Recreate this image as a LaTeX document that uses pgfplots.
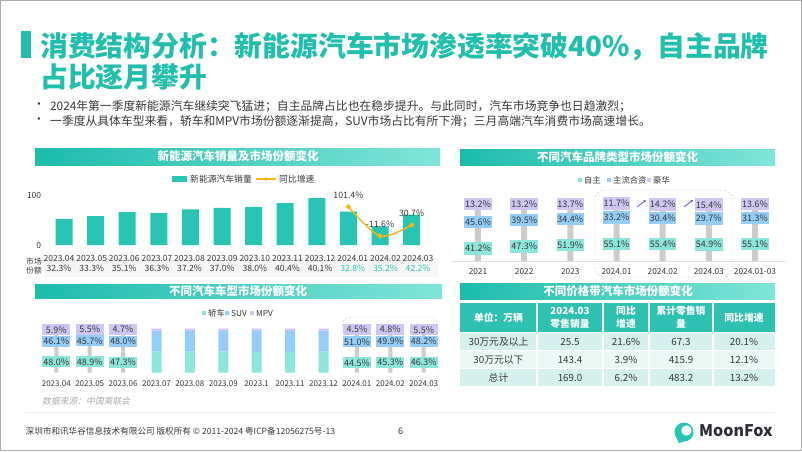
\documentclass[border=0pt]{standalone}
\usepackage{pgfplots}
\usepackage{pgfplotstable}
\pgfplotsset{compat=1.18}
\usepackage{fontspec}
\setmainfont{Noto Sans CJK SC}
\newfontfamily\slfont{Noto Sans CJK SC}[FakeSlant=0.2]
\usetikzlibrary{arrows.meta}
\definecolor{teal1}{RGB}{40,196,180}
\definecolor{ttl}{RGB}{32,190,172}
\definecolor{hdrL}{RGB}{28,188,171}
\definecolor{hdrR}{RGB}{128,228,218}
\definecolor{cA}{RGB}{140,230,219}
\definecolor{cB}{RGB}{148,206,248}
\definecolor{cC}{RGB}{205,199,244}
\definecolor{gold}{RGB}{246,184,18}
\definecolor{txt}{RGB}{55,55,55}
\definecolor{rowA}{RGB}{212,241,237}
\definecolor{rowB}{RGB}{234,248,246}
\definecolor{thdr}{RGB}{46,192,177}
\definecolor{arrowc}{RGB}{105,95,215}
\newcommand{\fs}[1]{\fontsize{#1}{#1}\selectfont}

\pgfplotstableread{
x sales
0 52.5
1 58.0
2 66.0
3 64.0
4 71.5
5 74.5
6 76.5
7 84.0
8 94.0
9 67.0
10 37.5
11 61.0
}\salesdata

\pgfplotstableread{
x a b c
0 41.2 45.6 13.2
1 47.3 39.5 13.2
2 51.9 34.4 13.7
3 55.1 33.2 11.7
4 55.4 30.4 14.2
5 54.9 29.7 15.4
6 55.1 31.3 13.6
}\branddata

\pgfplotstableread{
x a b c
0 48.0 46.1 5.9
1 48.9 45.7 5.5
2 47.3 48.0 4.7
9 44.5 51.0 4.5
10 45.3 49.9 4.8
11 46.3 48.2 5.5
}\typelab

\pgfplotstableread{
x a b c
3 47.5 46.8 5.7
4 47.6 46.7 5.7
5 47.9 46.4 5.7
6 47.0 47.2 5.8
7 46.9 47.2 5.9
8 47.3 46.9 5.8
}\typeun

\begin{document}
\begin{tikzpicture}
\path[use as bounding box] (0pt,0pt) rectangle (802pt,-451pt);
\fill[white] (0pt,0pt) rectangle (802pt,-451pt);

\begin{scope}[x=1pt,y=-1pt]
% frame
\draw[gray!65, line width=1pt] (0.5,0.5) rectangle (801.5,450.5);
% title
\fill[ttl] (21,31) rectangle (31,58);
\node[anchor=west, inner sep=0pt, font=\fs{27.8}\bfseries, text=ttl] at (40,47) {消费结构分析：新能源汽车市场渗透率突破40\%，自主品牌};
\node[anchor=west, inner sep=0pt, font=\fs{27.8}\bfseries, text=ttl] at (40,77) {占比逐月攀升};
% bullets
\node[anchor=west, inner sep=0pt, font=\fs{11.8}, text=txt] at (33,106) {•};
\node[anchor=west, inner sep=0pt, font=\fs{11.8}, text=txt] at (50,106) {2024年第一季度新能源汽车继续突飞猛进；自主品牌占比也在稳步提升。与此同时，汽车市场竞争也日趋激烈；};
\node[anchor=west, inner sep=0pt, font=\fs{11.8}, text=txt] at (33,121) {•};
\node[anchor=west, inner sep=0pt, font=\fs{11.8}, text=txt] at (50,121) {一季度从具体车型来看，轿车和MPV市场份额逐渐提高，SUV市场占比有所下滑；三月高端汽车消费市场高速增长。};

% section headers
\shade[left color=hdrL, right color=hdrR] (35,148) rectangle (440,165);
\node[font=\fs{11.5}\bfseries, text=white] at (238,156.5) {新能源汽车销量及市场份额变化};
\shade[left color=hdrL, right color=hdrR] (460,149) rectangle (775,165);
\node[font=\fs{11.5}\bfseries, text=white] at (617.5,157) {不同汽车品牌类型市场份额变化};
\shade[left color=hdrL, right color=hdrR] (35,284) rectangle (442,298);
\node[font=\fs{11.5}\bfseries, text=white] at (238,291) {不同汽车车型市场份额变化};
\shade[left color=hdrL, right color=hdrR] (460,283) rectangle (775,299);
\node[font=\fs{11.5}\bfseries, text=white] at (618,291) {不同价格带汽车市场份额变化};

% legend chart 1
\fill[teal1] (172,176) rectangle (187,182);
\node[anchor=west, inner sep=0pt, font=\fs{8.8}, text=txt] at (190,179) {新能源汽车销量};
\draw[gold, line width=1.3pt] (256,179) -- (276,179);
\fill[gold] (266,179) circle (1.8);
\node[anchor=west, inner sep=0pt, font=\fs{8.8}, text=txt] at (279,179) {同比增速};

% market share row chart 1
\fill[gray!7] (44,258) rectangle (438,277);
\node[font=\fs{7.8}, text=txt] at (34,261) {市场};
\node[font=\fs{7.8}, text=txt] at (34,271) {份额};
\foreach \v [count=\i from 0] in {32.3,33.3,35.1,36.3,37.2,37.0,38.0,40.4,40.1}
  \node[font=\fs{8.6}, text=txt] at (59+32.64*\i,268.5) {\v\%};
\foreach \v [count=\i from 9] in {32.8,35.2,42.2}
  \node[font=\fs{8.6}, text=teal1] at (59+32.64*\i,268.5) {\v\%};

% legend chart 2
\fill[cA] (578,178) rectangle (582,182);
\node[anchor=west, inner sep=0pt, font=\fs{8.3}, text=txt] at (584,180) {自主};
\fill[cB] (607,178) rectangle (611,182);
\node[anchor=west, inner sep=0pt, font=\fs{8.3}, text=txt] at (613,180) {主流合资};
\fill[cC] (647,178) rectangle (651,182);
\node[anchor=west, inner sep=0pt, font=\fs{8.3}, text=txt] at (653,180) {豪华};
\draw[gray!25, line width=0.8pt] (452,261) -- (786,261);
\draw[gray!45, dash pattern=on 2pt off 2pt, rounded corners=9pt] (595,190) rectangle (732,277);
\draw[arrowc, line width=0.8pt, -{Stealth[length=3pt,width=3pt]}] (637,207) -- (646,200);
\draw[arrowc, line width=0.8pt, -{Stealth[length=3pt,width=3pt]}] (684,207) -- (693,200);

% legend chart 3
\fill[cA] (202,311) rectangle (206,315);
\node[anchor=west, inner sep=0pt, font=\fs{8.3}, text=txt] at (208,313) {轿车};
\fill[cB] (225,311) rectangle (229,315);
\node[anchor=west, inner sep=0pt, font=\fs{8.3}, text=txt] at (231,313) {SUV};
\fill[cC] (250,311) rectangle (254,315);
\node[anchor=west, inner sep=0pt, font=\fs{8.3}, text=txt] at (256,313) {MPV};
\draw[gray!45, dash pattern=on 2pt off 2pt, rounded corners=9pt] (342,317) rectangle (438,390);
\node[anchor=west, inner sep=0pt, font=\slfont\fs{8.8}, text=gray!65] at (42,401) {数据来源：中国乘联会};

% table
\fill[thdr] (460,303) rectangle (775,332);
\fill[rowA] (460,333) rectangle (775,350);
\fill[rowB] (460,351) rectangle (775,368);
\fill[rowA] (460,369) rectangle (775,386);
\foreach \x in {537,603,649,713} \draw[white, line width=1.2pt] (\x,303) -- (\x,386);
\draw[white, line width=1pt] (460,332.5) -- (775,332.5);
\begin{scope}[every node/.style={font=\fs{9.8}\bfseries, text=white, inner sep=0pt}]
\node at (498.5,317.5) {单位：万辆};
\node at (570,311) {2024.03};
\node at (570,324) {零售销量};
\node at (626,311) {同比};
\node at (626,324) {增速};
\node at (681,311) {累计零售销};
\node at (681,324) {量};
\node at (744,317.5) {同比增速};
\end{scope}
\begin{scope}[every node/.style={font=\fs{9.8}, text=txt, inner sep=0pt}]
\node at (498.5,341.5) {30万元及以上};
\node at (570,341.5) {25.5};
\node at (626,341.5) {21.6\%};
\node at (681,341.5) {67.3};
\node at (744,341.5) {20.1\%};
\node at (498.5,359.5) {30万元以下};
\node at (570,359.5) {143.4};
\node at (626,359.5) {3.9\%};
\node at (681,359.5) {415.9};
\node at (744,359.5) {12.1\%};
\node at (498.5,377.5) {总计};
\node at (570,377.5) {169.0};
\node at (626,377.5) {6.2\%};
\node at (681,377.5) {483.2};
\node at (744,377.5) {13.2\%};
\end{scope}

% footer
\draw[gray!12, line width=1pt] (25,412.7) -- (775,412.7);
\node[anchor=west, inner sep=0pt, font=\fs{8.6}, text=txt] at (25.5,431) {深圳市和讯华谷信息技术有限公司 版权所有 © 2011-2024 粤ICP备12056275号-13};
\node[inner sep=0pt, font=\fs{9}, text=txt] at (400.5,431) {6};
\fill[teal1] (684,432) circle (9.5);
\fill[white] (686.5,430.5) circle (5.2);
\fill[teal1] (676,437) -- (679,443) -- (684,441.5) -- cycle;
\node[anchor=west, inner sep=0pt, font=\fs{16}\bfseries, text={rgb,255:red,45;green,45;blue,55}] at (699,431) {MoonFox};
\end{scope}

% ---------- chart 1: NEV sales ----------
\begin{axis}[at={(48.2pt,-245pt)}, anchor=south west, scale only axis,
  width=379.2pt, height=50pt, xmin=-0.5, xmax=11.5, ymin=0, ymax=100,
  ybar, bar width=17pt, clip=false,
  axis line style={draw=none}, major tick style={draw=none},
  ytick={0,100}, yticklabel style={font=\fs{8.5}, text=txt, anchor=east, xshift=-3.5pt},
  xtick={-0.158,0.875,1.908,2.941,3.974,5.006,6.039,7.072,8.105,9.138,10.171,11.204},
  xticklabels={2023.04,2023.05,2023.06,2023.07,2023.08,2023.09,2023.10,2023.11,2023.12,2024.01,2024.02,2024.03},
  xticklabel style={font=\fs{8.5}, text=txt, anchor=center, yshift=-9pt},
  /pgf/number format/assume math mode=true]
\addplot[fill=teal1, draw=none] table[x=x, y=sales] {\salesdata};
\end{axis}
\begin{axis}[at={(48.2pt,-245pt)}, anchor=south west, scale only axis,
  width=379.2pt, height=50pt, xmin=-0.5, xmax=11.5, ymin=-46.3, ymax=146.5,
  hide axis, clip=false]
\addplot[gold, line width=1.4pt, smooth, mark=*, mark size=1.8pt,
  mark options={fill=gold, draw=gold},
  nodes near coords, point meta=explicit symbolic, nodes near coords align={south},
  every node near coord/.append style={font=\fs{8.8}, text=txt, anchor=south, yshift=4pt}]
  coordinates {(9,101.4) [101.4\%] (10,-11.6) [-11.6\%] (11,30.7) [30.7\%]};
\end{axis}

% ---------- chart 2: brand types ----------
\begin{axis}[at={(454.9pt,-261pt)}, anchor=south west, scale only axis,
  width=323.2pt, height=61pt, xmin=-0.5, xmax=6.5, ymin=0, ymax=100,
  ybar stacked, bar width=6pt, clip=false,
  axis line style={draw=none}, major tick style={draw=none}, ytick=\empty,
  xtick={0,...,6}, xticklabels={2021,2022,2023,2024.01,2024.02,2024.03,2024.01-03},
  xticklabel style={font=\fs{8.3}, text=txt, anchor=center, yshift=-11pt}]
\addplot[fill=gray!40, draw=none] table[x=x, y=a] {\branddata};
\addplot[fill=gray!40, draw=none] table[x=x, y=b] {\branddata};
\addplot[fill=gray!40, draw=none] table[x=x, y=c] {\branddata};
\end{axis}
\begin{axis}[at={(454.9pt,-261pt)}, anchor=south west, scale only axis,
  width=323.2pt, height=61pt, xmin=-0.5, xmax=6.5, ymin=0, ymax=100,
  hide axis, clip=false, point meta=explicit,
  nodes near coords={\pgfmathprintnumber[fixed,fixed zerofill,precision=1]{\pgfplotspointmeta}\%},
  nodes near coords align={center},
  every node near coord/.append style={anchor=center, inner sep=0pt, minimum width=27.5pt, minimum height=12.5pt, font=\fs{9}, text=txt},
  /pgf/number format/assume math mode=true]
\addplot[only marks, mark=*, mark size=0pt, mark options={draw=none, fill=none},
  every node near coord/.append style={fill=cA}]
  table[x=x, y expr=\thisrow{a}/2, meta=a] {\branddata};
\addplot[only marks, mark=*, mark size=0pt, mark options={draw=none, fill=none},
  every node near coord/.append style={fill=cB}]
  table[x=x, y expr=\thisrow{a}+\thisrow{b}/2, meta=b] {\branddata};
\addplot[only marks, mark=*, mark size=0pt, mark options={draw=none, fill=none},
  every node near coord/.append style={fill=cC}]
  table[x=x, y expr=\thisrow{a}+\thisrow{b}+\thisrow{c}/2, meta=c] {\branddata};
\end{axis}

% ---------- chart 3: vehicle types ----------
\begin{axis}[at={(39.6pt,-372.5pt)}, anchor=south west, scale only axis,
  width=400.8pt, height=44pt, xmin=-0.5, xmax=11.5, ymin=0, ymax=100,
  ybar stacked, bar width=10pt, clip=false,
  axis line style={draw=none}, major tick style={draw=none}, ytick=\empty,
  xtick={0,...,11},
  xticklabels={2023.04,2023.05,2023.06,2023.07,2023.08,2023.09,2023.1,2023.11,2023.12,2024.01,2024.02,2024.03},
  xticklabel style={font=\fs{8}, text=txt, anchor=center, yshift=-11.5pt}]
\addplot[fill=cA, draw=none] table[x=x, y=a] {\typeun};
\addplot[fill=cB, draw=none] table[x=x, y=b] {\typeun};
\addplot[fill=cC, draw=none] table[x=x, y=c] {\typeun};
\end{axis}
\begin{axis}[at={(39.6pt,-372.5pt)}, anchor=south west, scale only axis,
  width=400.8pt, height=44pt, xmin=-0.5, xmax=11.5, ymin=0, ymax=100,
  ybar stacked, bar width=4pt, clip=false, hide axis]
\addplot[fill=gray!40, draw=none] table[x=x, y=a] {\typelab};
\addplot[fill=gray!40, draw=none] table[x=x, y=b] {\typelab};
\addplot[fill=gray!40, draw=none] table[x=x, y=c] {\typelab};
\end{axis}
\begin{axis}[at={(39.6pt,-372.5pt)}, anchor=south west, scale only axis,
  width=400.8pt, height=44pt, xmin=-0.5, xmax=11.5, ymin=0, ymax=100,
  hide axis, clip=false, point meta=explicit,
  nodes near coords={\pgfmathprintnumber[fixed,fixed zerofill,precision=1]{\pgfplotspointmeta}\%},
  nodes near coords align={center},
  every node near coord/.append style={anchor=center, inner sep=0pt, minimum width=28pt, minimum height=11pt, font=\fs{9}, text=txt},
  /pgf/number format/assume math mode=true]
\addplot[only marks, mark=*, mark size=0pt, mark options={draw=none, fill=none},
  every node near coord/.append style={fill=cA}]
  table[x=x, y expr=\thisrow{a}/2, meta=a] {\typelab};
\addplot[only marks, mark=*, mark size=0pt, mark options={draw=none, fill=none},
  every node near coord/.append style={fill=cB}]
  table[x=x, y expr=\thisrow{a}+\thisrow{b}/2, meta=b] {\typelab};
\addplot[only marks, mark=*, mark size=0pt, mark options={draw=none, fill=none},
  every node near coord/.append style={fill=cC}]
  table[x=x, y expr=\thisrow{a}+\thisrow{b}+\thisrow{c}/2, meta=c] {\typelab};
\end{axis}
\end{tikzpicture}
\end{document}
